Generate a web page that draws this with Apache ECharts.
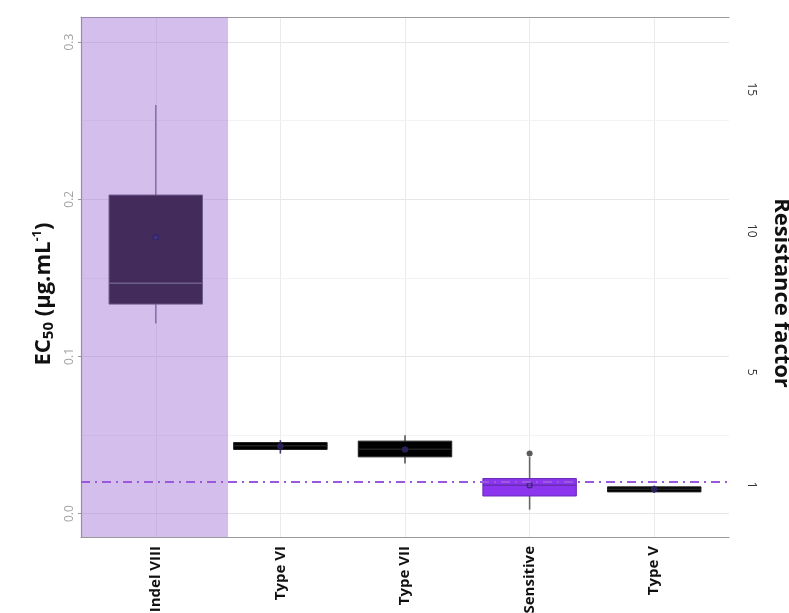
<!DOCTYPE html>
<html>
<head>
<meta charset="utf-8">
<script src="https://cdn.jsdelivr.net/npm/echarts@6/dist/echarts.min.js"></script>
<style>html,body{margin:0;padding:0;background:#fff}#c{width:789px;height:613px}</style>
</head>
<body>
<div id="c"></div>
<script>
// ---- data ----
const categories   = ['Indel VIII', 'Type VI', 'Type VII', 'Sensitive', 'Type V'];
const positions    = [1, 2, 3, 4, 5];
const whiskerLow   = [0.121, 0.0382, 0.0318, 0.0025, 0.0132];
const q1           = [0.1333, 0.0408, 0.0361, 0.0112, 0.0138];
const medians      = [0.1465, 0.0432, 0.0410, 0.0180, 0.0155];
const q3           = [0.2027, 0.0452, 0.0461, 0.0223, 0.0170];
const whiskerHigh  = [0.260, 0.0467, 0.0499, 0.0360, 0.0178];
const means        = [0.1758, 0.0429, 0.0408, 0.0180, 0.0155];
const outlierPos   = [4];
const outlierVal   = [0.0382];
const referenceEC50 = 0.0176;          // dashed line (resistance factor = 1)
const rfUnit        = 0.018;           // EC50 per resistance-factor unit on right axis
const ec50Ticks     = [0, 0.1, 0.2, 0.3];
const ec50Minor     = [0.05, 0.15, 0.25];
const rfTicks       = [1, 5, 10, 15];
const shadedRange   = [0.4, 1.58];
const yMin = -0.0149, yMax = 0.316;
const xMin = 0.4, xMax = 5.6;

// ---- styles ----
const boxFill    = ['#432c5b', '#000000', '#000000', '#8b35ee', '#000000'];
const boxStroke  = ['#6f5c90', '#222222', '#222222', '#6a2bb5', '#222222'];
const whiskColor = ['#8a71ac', '#3a3a6a', '#555555', '#666666', '#3a3a6a'];
const meanFill   = ['#4a3590', '#2c2466', '#2c2466', 'transparent', '#2c2466'];

const boxData = positions.map((p, i) => [p, whiskerLow[i], q1[i], medians[i], q3[i], whiskerHigh[i]]);

function renderBox(params, api) {
  const i = params.dataIndex;
  const x = api.value(0);
  const half = api.size([0.75, 0])[0] / 2;
  const pMin = api.coord([x, api.value(1)]);
  const pQ1  = api.coord([x, api.value(2)]);
  const pMed = api.coord([x, api.value(3)]);
  const pQ3  = api.coord([x, api.value(4)]);
  const pMax = api.coord([x, api.value(5)]);
  const wStyle = { stroke: whiskColor[i], lineWidth: 1.6 };
  return {
    type: 'group',
    children: [
      { type: 'line', shape: { x1: pMax[0], y1: pMax[1], x2: pQ3[0], y2: pQ3[1] }, style: wStyle },
      { type: 'line', shape: { x1: pQ1[0], y1: pQ1[1], x2: pMin[0], y2: pMin[1] }, style: wStyle },
      { type: 'rect', shape: { x: pQ3[0] - half, y: pQ3[1], width: 2 * half, height: Math.max(pQ1[1] - pQ3[1], 1) },
        style: { fill: boxFill[i], stroke: boxStroke[i], lineWidth: 1 } },
      { type: 'line', shape: { x1: pMed[0] - half, y1: pMed[1], x2: pMed[0] + half, y2: pMed[1] },
        style: { stroke: boxStroke[i], lineWidth: 1.5 } }
    ]
  };
}

const chart = echarts.init(document.getElementById('c'), null, { renderer: 'canvas' });
const font = 'Open Sans';
chart.setOption({
  animation: false,
  backgroundColor: '#ffffff',
  grid: { left: 81, right: 60, top: 17, bottom: 76, containLabel: false, outerBoundsMode: 'none' },
  xAxis: [
    {
      type: 'value', min: xMin, max: xMax, position: 'bottom',
      axisLine: { show: true, onZero: false, lineStyle: { color: '#9a9a9a', width: 1.2 } },
      axisTick: { show: false, customValues: positions },
      axisLabel: {
        customValues: positions, rotate: 90, margin: 9,
        color: '#111', fontFamily: font, fontWeight: 'bold', fontSize: 15,
        formatter: v => categories[positions.indexOf(Math.round(v))] || ''
      },
      splitLine: { show: true, lineStyle: { color: '#ebebeb', width: 1 } }
    },
    {
      type: 'value', min: xMin, max: xMax, position: 'top',
      axisLine: { show: true, onZero: false, lineStyle: { color: '#9a9a9a', width: 1.2 } },
      axisTick: { show: false }, axisLabel: { show: false }, splitLine: { show: false }
    }
  ],
  yAxis: [
    {
      type: 'value', min: yMin, max: yMax, position: 'left',
      name: '{b|EC}{sub|50}{b| (µg.mL}{sup|-1}{b|)}',
      nameLocation: 'middle', nameGap: 22, nameRotate: 90,
      nameTextStyle: {
        padding: [0, 34, 0, 0],
        rich: {
          b:   { fontFamily: font, fontWeight: 'bold', fontSize: 22, color: '#111' },
          sub: { fontFamily: font, fontWeight: 'bold', fontSize: 15, color: '#111', verticalAlign: 'bottom', padding: [10, 0, 0, 0] },
          sup: { fontFamily: font, fontWeight: 'bold', fontSize: 13, color: '#111', verticalAlign: 'top', padding: [0, 0, 10, 0] }
        }
      },
      axisLine: { show: true, onZero: false, lineStyle: { color: '#9a9a9a', width: 1.2 } },
      axisTick: { show: true, length: 3, customValues: ec50Ticks, lineStyle: { color: '#999' } },
      axisLabel: {
        customValues: ec50Ticks, rotate: 90, margin: 5,
        color: '#a3a3a3', fontFamily: font, fontSize: 12,
        formatter: v => v.toFixed(1)
      },
      splitLine: { show: true, lineStyle: { color: '#e6e6e6', width: 1 } }
    },
    {
      type: 'value', min: yMin / rfUnit, max: yMax / rfUnit, position: 'right',
      name: 'Resistance factor', nameLocation: 'middle', nameGap: 41, nameRotate: -90,
      nameTextStyle: { fontFamily: font, fontWeight: 'bold', fontSize: 22, color: '#111', padding: [0, 0, 0, 32] },
      axisLine: { show: false, onZero: false },
      axisTick: { show: false, customValues: rfTicks },
      axisLabel: {
        customValues: rfTicks, rotate: -90, margin: 16,
        color: '#333', fontFamily: font, fontSize: 12
      },
      splitLine: { show: false }
    }
  ],
  series: [
    {
      type: 'line', xAxisIndex: 0, yAxisIndex: 0, data: [], silent: true,
      markLine: {
        silent: true, symbol: 'none', z: 0, label: { show: false },
        lineStyle: { color: '#f3f3f3', width: 1, type: 'solid' },
        data: ec50Minor.map(v => ({ yAxis: v }))
      },
      markArea: {
        silent: true, z: 1,
        itemStyle: { color: 'rgba(160,110,210,0.45)' },
        data: [[{ xAxis: shadedRange[0] }, { xAxis: shadedRange[1] }]]
      }
    },
    {
      type: 'custom', xAxisIndex: 0, yAxisIndex: 0, z: 3,
      renderItem: renderBox,
      encode: { x: 0, y: [1, 2, 3, 4, 5] },
      data: boxData
    },
    {
      type: 'scatter', xAxisIndex: 0, yAxisIndex: 0, z: 4,
      symbol: 'circle', symbolSize: 5,
      data: means.map((m, i) => ({
        value: [positions[i], m],
        itemStyle: { color: meanFill[i], borderColor: '#2c2466', borderWidth: 1.4 }
      }))
    },
    {
      type: 'scatter', xAxisIndex: 0, yAxisIndex: 0, z: 4,
      symbol: 'circle', symbolSize: 6,
      itemStyle: { color: '#333' },
      data: outlierPos.map((p, i) => [p, outlierVal[i]])
    },
    {
      type: 'line', xAxisIndex: 0, yAxisIndex: 0, data: [], silent: true,
      markLine: {
        silent: true, symbol: 'none', z: 6, label: { show: false },
        lineStyle: { color: '#9b58dc', width: 2, type: [9, 5, 2, 5] },
        data: [{ yAxis: referenceEC50 }]
      }
    }
  ]
});
</script>
</body>
</html>
